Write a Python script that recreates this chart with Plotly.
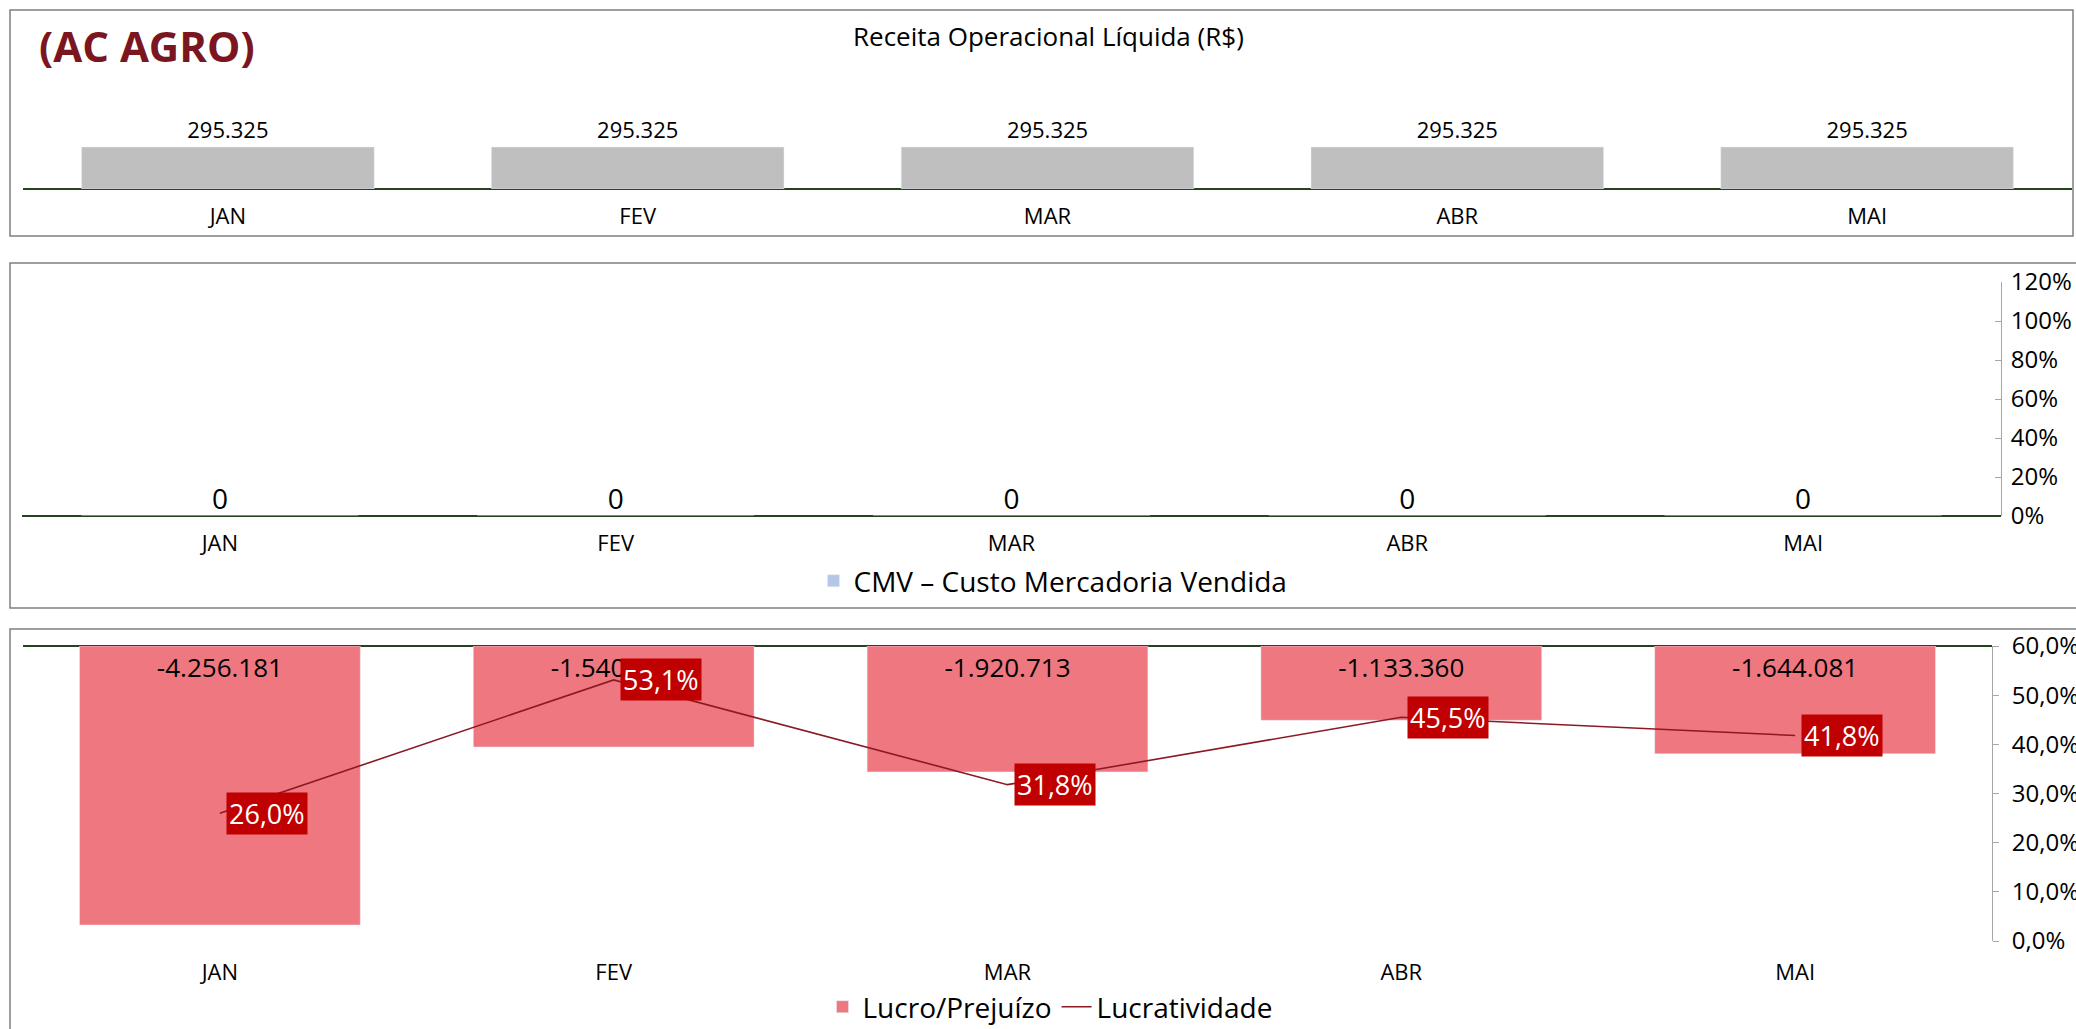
import plotly.graph_objects as go

W, H = 2076, 1029

months = ["JAN", "FEV", "MAR", "ABR", "MAI"]
receita = [295325, 295325, 295325, 295325, 295325]
cmv = [0, 0, 0, 0, 0]
lucro = [-4256181, -1540838, -1920713, -1133360, -1644081]
lucratividade = [0.260, 0.531, 0.318, 0.455, 0.418]

title_text = "Receita Operacional Líquida (R$)"
brand_text = "(AC AGRO)"
cmv_name = "CMV – Custo Mercadoria Vendida"
lucro_name = "Lucro/Prejuízo"
lucr_name = "Lucratividade"


def fmt_int(v):
    s = f"{abs(v):,}".replace(",", ".")
    return ("-" if v < 0 else "") + s


def fmt_pct(v):
    return f"{v*100:.1f}%".replace(".", ",")


def px_x(x):
    return x / W


def px_y(y):
    return 1 - y / H


FONT = "Open Sans"
GREEN = "#27421f"
GRAY_AX = "#a6a6a6"

fig = go.Figure()

# Panel 1
fig.add_trace(go.Bar(
    x=months, y=receita, xaxis="x", yaxis="y", width=0.714,
    marker=dict(color="#bfbfbf"), text=[fmt_int(v) for v in receita],
    textposition="outside", textfont=dict(size=22, color="black", family=FONT),
    cliponaxis=False, showlegend=False, hoverinfo="skip"))

# Panel 2
fig.add_trace(go.Bar(
    x=months, y=cmv, xaxis="x2", yaxis="y2", width=0.7, name=cmv_name,
    marker=dict(color="#b4c7e7"), legend="legend2", showlegend=True))
fig.add_trace(go.Scatter(
    x=months, y=cmv, xaxis="x2", yaxis="y2", mode="text",
    text=[fmt_int(v) for v in cmv], textposition="top center",
    textfont=dict(size=28, color="black", family=FONT),
    cliponaxis=False, showlegend=False, hoverinfo="skip"))
# invisible trace so the right-hand percentage axis of panel 2 is drawn
fig.add_trace(go.Scatter(
    x=months, y=[None] * len(months), xaxis="x2", yaxis="y3", mode="markers",
    showlegend=False, hoverinfo="skip"))

# Panel 3
fig.add_trace(go.Bar(
    x=months, y=lucro, xaxis="x3", yaxis="y4", width=0.713, name=lucro_name,
    marker=dict(color="#ee7780"), text=[fmt_int(v) for v in lucro],
    textposition="inside", insidetextanchor="start",
    insidetextfont=dict(size=26, color="black", family=FONT),
    textangle=0, legend="legend3"))
fig.add_trace(go.Scatter(
    x=months, y=lucratividade, xaxis="x3", yaxis="y5", mode="lines",
    name=lucr_name, line=dict(color="#8b1a22", width=1.6),
    legend="legend3", cliponaxis=False))

annotations = []
for m, v in zip(months, lucratividade):
    annotations.append(dict(
        x=m, y=v, xref="x3", yref="y5", text=fmt_pct(v), showarrow=False,
        xanchor="left", yanchor="middle", xshift=6,
        bgcolor="#c00000", borderpad=2,
        font=dict(size=27, color="white", family=FONT)))

annotations.append(dict(
    x=px_x(37), y=px_y(46), xref="paper", yref="paper", text="<b>" + brand_text + "</b>",
    showarrow=False, xanchor="left", yanchor="middle",
    font=dict(size=42, color="#7b1520", family=FONT)))
annotations.append(dict(
    x=px_x(1048), y=px_y(36), xref="paper", yref="paper", text=title_text,
    showarrow=False, xanchor="center", yanchor="middle",
    font=dict(size=26, color="black", family=FONT)))

border = dict(color="#7f7f7f", width=1.5)
shapes = [
    dict(type="rect", xref="paper", yref="paper", x0=px_x(10), x1=px_x(2073),
         y0=px_y(236), y1=px_y(10), line=border, layer="below"),
    dict(type="rect", xref="paper", yref="paper", x0=px_x(10), x1=px_x(2110),
         y0=px_y(608), y1=px_y(263), line=border, layer="below"),
    dict(type="rect", xref="paper", yref="paper", x0=px_x(10), x1=px_x(2110),
         y0=px_y(1060), y1=px_y(629), line=border, layer="below"),
]

cat_axis = dict(type="category", showgrid=False, showline=False, zeroline=False,
                ticks="", tickfont=dict(size=22, color="black", family=FONT),
                fixedrange=True, automargin=False)

fig.update_layout(
    width=W, height=H, margin=dict(l=0, r=0, t=0, b=0, autoexpand=False),
    paper_bgcolor="white", plot_bgcolor="rgba(0,0,0,0)",
    separators=",.",
    font=dict(family=FONT, color="black"),
    bargap=0.3,
    xaxis=dict(cat_axis, domain=[px_x(23), px_x(2072)], anchor="y", ticklabelstandoff=12),
    yaxis=dict(domain=[px_y(189), px_y(60)], range=[0, 907000], automargin=False,
               showgrid=False, showticklabels=False, zeroline=True,
               zerolinecolor=GREEN, zerolinewidth=1.5, anchor="x", showline=False,
               fixedrange=True),
    xaxis2=dict(cat_axis, domain=[px_x(22), px_x(2001)], anchor="y2", ticklabelstandoff=12),
    yaxis2=dict(domain=[px_y(516), px_y(282)], range=[0, 1], showgrid=False, automargin=False,
                showticklabels=False, zeroline=True, zerolinecolor=GREEN,
                zerolinewidth=1.5, anchor="x2", showline=False, fixedrange=True),
    yaxis3=dict(overlaying="y2", side="right", anchor="x2", range=[0, 1.2], dtick=0.2,
                tickformat=".0%", showgrid=False, zeroline=False, showline=True,
                linecolor=GRAY_AX, linewidth=1, ticks="inside", ticklen=6,
                tickcolor=GRAY_AX, automargin=False, fixedrange=True, ticklabelstandoff=4,
                tickfont=dict(size=24, color="black", family=FONT)),
    xaxis3=dict(cat_axis, domain=[px_x(23), px_x(1992)], anchor="y4", ticklabelstandoff=16),
    yaxis4=dict(domain=[px_y(941), px_y(646)], range=[-4500000, 0], showgrid=False,
                showticklabels=False, zeroline=True, zerolinecolor=GREEN, automargin=False,
                zerolinewidth=1.5, anchor="x3", showline=False, fixedrange=True),
    yaxis5=dict(overlaying="y4", side="right", anchor="x3", range=[0, 0.6], dtick=0.1,
                tickformat=".1%", showgrid=False, zeroline=False, showline=True,
                linecolor=GRAY_AX, linewidth=1, ticks="outside", ticklen=6,
                tickcolor=GRAY_AX, automargin=False, fixedrange=True, ticklabelstandoff=8,
                tickfont=dict(size=24, color="black", family=FONT)),
    legend2=dict(x=px_x(1053), y=px_y(581), xanchor="center", yanchor="middle",
                 orientation="h", font=dict(size=28, color="black", family=FONT),
                 bgcolor="rgba(0,0,0,0)"),
    legend3=dict(x=px_x(1050), y=px_y(1007), xanchor="center", yanchor="middle",
                 orientation="h", font=dict(size=28, color="black", family=FONT),
                 bgcolor="rgba(0,0,0,0)"),
    annotations=annotations,
    shapes=shapes,
)

fig.write_html(
    "out.html",
    config={"displayModeBar": False},
    post_script="document.body.style.margin='0';document.body.style.overflow='hidden';",
)
